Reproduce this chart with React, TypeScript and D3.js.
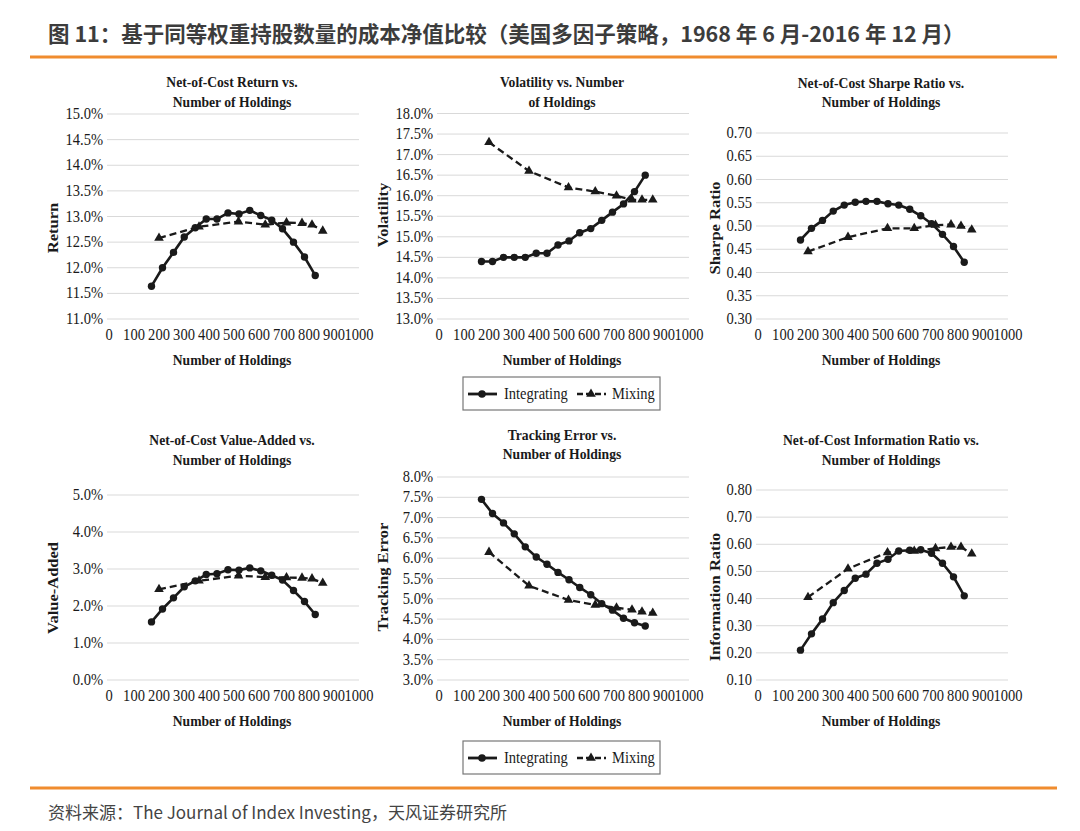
import React from 'react';
import * as d3 from 'd3';

// number of holdings (x) for the two constructions
const holdingsIntegrating = [170, 214, 258, 301, 345, 389, 432, 476, 520, 563, 607, 651, 694, 738, 782, 825];
const holdingsMixing = [200, 360, 518, 625, 710, 772, 812, 855];

// series values
const returnIntegrating = [11.64, 12.0, 12.3, 12.6, 12.78, 12.95, 12.95, 13.07, 13.05, 13.12, 13.02, 12.93, 12.76, 12.5, 12.21, 11.85];
const returnMixing = [12.58, 12.8, 12.9, 12.84, 12.88, 12.87, 12.84, 12.72];
const volIntegrating = [14.4, 14.4, 14.5, 14.5, 14.5, 14.6, 14.6, 14.8, 14.9, 15.1, 15.2, 15.4, 15.6, 15.8, 16.1, 16.5];
const volMixing = [17.3, 16.6, 16.2, 16.1, 16.0, 15.9, 15.9, 15.9];
const sharpeIntegrating = [0.47, 0.495, 0.512, 0.532, 0.545, 0.551, 0.553, 0.553, 0.548, 0.545, 0.536, 0.522, 0.505, 0.482, 0.456, 0.422];
const sharpeMixing = [0.445, 0.476, 0.495, 0.495, 0.502, 0.503, 0.5, 0.492];
const vaIntegrating = [1.57, 1.92, 2.22, 2.52, 2.68, 2.85, 2.87, 2.98, 2.97, 3.03, 2.95, 2.83, 2.7, 2.42, 2.12, 1.77];
const vaMixing = [2.45, 2.68, 2.82, 2.78, 2.77, 2.76, 2.74, 2.62];
const teIntegrating = [7.45, 7.1, 6.87, 6.6, 6.28, 6.03, 5.85, 5.65, 5.47, 5.28, 5.1, 4.88, 4.72, 4.52, 4.41, 4.33];
const teMixing = [6.15, 5.32, 4.97, 4.85, 4.78, 4.73, 4.68, 4.65];
const irIntegrating = [0.21, 0.27, 0.325, 0.385, 0.43, 0.475, 0.49, 0.53, 0.545, 0.575, 0.578, 0.58, 0.567, 0.53, 0.48, 0.41];
const irMixing = [0.405, 0.51, 0.57, 0.575, 0.585, 0.59, 0.59, 0.565];

// tick labels
const xTicks = [0, 100, 200, 300, 400, 500, 600, 700, 800, 900, 1000];
const returnTicks = [11, 11.5, 12, 12.5, 13, 13.5, 14, 14.5, 15];
const volTicks = [13, 13.5, 14, 14.5, 15, 15.5, 16, 16.5, 17, 17.5, 18];
const sharpeTicks = [0.3, 0.35, 0.4, 0.45, 0.5, 0.55, 0.6, 0.65, 0.7];
const vaTicks = [0, 1, 2, 3, 4, 5];
const teTicks = [3, 3.5, 4, 4.5, 5, 5.5, 6, 6.5, 7, 7.5, 8];
const irTicks = [0.1, 0.2, 0.3, 0.4, 0.5, 0.6, 0.7, 0.8];

const SERIF = '"Liberation Serif", "DejaVu Serif", serif';
const CJK = '"Noto Sans CJK SC", "Noto Sans", sans-serif';
const SX = 0.88; // the scanned chart text is narrow
const INK = '#1a1a1a';
const ORANGE = '#F08C2E';

const pct1 = (v: number) => v.toFixed(1) + '%';
const dec2 = (v: number) => v.toFixed(2);

const T = ({ x, y, anchor = 'middle', size = 15, weight = 'normal', rotate = false, children }: any) => (
  <text
    transform={`translate(${x},${y}) scale(${SX},1)${rotate ? ' rotate(-90)' : ''}`}
    textAnchor={anchor}
    fontFamily={SERIF}
    fontSize={size}
    fontWeight={weight}
    fill={INK}
  >
    {children}
  </text>
);

const Panel = ({ box, ticks, fmt, title, yLabel, yLabelPos, titleY, integ, mix }: any) => {
  const x = d3.scaleLinear().domain([0, 1000]).range([box.x0, box.x1]);
  const y = d3.scaleLinear().domain([ticks[0], ticks[ticks.length - 1]]).range([box.y1, box.y0]);
  const line = d3.line<[number, number]>().x(d => x(d[0])).y(d => y(d[1]));
  const integPts: [number, number][] = holdingsIntegrating.map((h, i) => [h, integ[i]]);
  const mixPts: [number, number][] = holdingsMixing.map((h, i) => [h, mix[i]]);
  const tri = d3.symbol(d3.symbolTriangle, 40)() as string;
  const cx = (box.x0 + box.x1) / 2 - 2;
  return (
    <g>
      <T x={cx} y={titleY[0]} size={15.5} weight="bold">{title[0]}</T>
      <T x={cx} y={titleY[1]} size={15.5} weight="bold">{title[1]}</T>
      {ticks.map((t: number) => (
        <g key={t}>
          <line x1={box.x0 - 2} x2={box.x1} y1={y(t)} y2={y(t)} stroke="#d9d9d9" strokeWidth={1} />
          <T x={box.x0 - 6} y={y(t) + 5} anchor="end" size={16.5}>{fmt(t)}</T>
        </g>
      ))}
      {xTicks.map(t => (
        <T key={t} x={x(t)} y={box.y1 + 21} size={16.5}>{t}</T>
      ))}
      <T x={cx} y={box.y1 + 46} size={15.5} weight="bold">Number of Holdings</T>
      <T x={yLabelPos[0] + 5} y={yLabelPos[1]} size={16.5} weight="bold" rotate>{yLabel}</T>
      <path d={line(mixPts) as string} fill="none" stroke={INK} strokeWidth={2.3} strokeDasharray="7,4" />
      {mixPts.map((p, i) => (
        <path key={i} d={tri} transform={`translate(${x(p[0])},${y(p[1])})`} fill={INK} />
      ))}
      <path d={line(integPts) as string} fill="none" stroke={INK} strokeWidth={2.6} />
      {integPts.map((p, i) => (
        <circle key={i} cx={x(p[0])} cy={y(p[1])} r={3.7} fill={INK} />
      ))}
    </g>
  );
};

const Legend = ({ y0 }: { y0: number }) => {
  const cy = y0 + 17;
  const tri = d3.symbol(d3.symbolTriangle, 40)() as string;
  return (
    <g>
      <rect x={463} y={y0} width={197} height={33} fill="#fff" stroke="#777" strokeWidth={1.2} />
      <line x1={468} x2={497} y1={cy} y2={cy} stroke={INK} strokeWidth={2.8} />
      <circle cx={482} cy={cy} r={3.8} fill={INK} />
      <T x={504} y={cy + 5} anchor="start" size={16.5}>Integrating</T>
      <line x1={577} x2={606} y1={cy} y2={cy} stroke={INK} strokeWidth={2.6} strokeDasharray="6,3" />
      <path d={tri} transform={`translate(${591},${cy})`} fill={INK} />
      <T x={612} y={cy + 5} anchor="start" size={16.5}>Mixing</T>
    </g>
  );
};

export default function App() {
  return (
    <svg width={1080} height={831} style={{ position: 'absolute', left: 0, top: 0, background: '#fff' }}>
      <text x={48} y={42} fontFamily={CJK} fontSize={21.5} fontWeight="bold" fill="#3c3c3c">
        图 11：基于同等权重持股数量的成本净值比较（美国多因子策略，1968 年 6 月-2016 年 12 月）
      </text>
      <line x1={30} x2={1057} y1={57} y2={57} stroke={ORANGE} strokeWidth={3} />

      <Panel box={{ x0: 109, x1: 359, y0: 114, y1: 319 }} ticks={returnTicks} fmt={pct1}
        title={['Net-of-Cost Return vs.', 'Number of Holdings']} titleY={[87, 107]}
        yLabel="Return" yLabelPos={[53, 228]} integ={returnIntegrating} mix={returnMixing} />
      <Panel box={{ x0: 439, x1: 689, y0: 113.5, y1: 319 }} ticks={volTicks} fmt={pct1}
        title={['Volatility vs. Number', 'of Holdings']} titleY={[87, 107]}
        yLabel="Volatility" yLabelPos={[383, 215]} integ={volIntegrating} mix={volMixing} />
      <Panel box={{ x0: 758, x1: 1008, y0: 133, y1: 319 }} ticks={sharpeTicks} fmt={dec2}
        title={['Net-of-Cost Sharpe Ratio vs.', 'Number of Holdings']} titleY={[88, 107]}
        yLabel="Sharpe Ratio" yLabelPos={[715, 228]} integ={sharpeIntegrating} mix={sharpeMixing} />

      <Legend y0={377} />

      <Panel box={{ x0: 109, x1: 359, y0: 495, y1: 680 }} ticks={vaTicks} fmt={pct1}
        title={['Net-of-Cost Value-Added vs.', 'Number of Holdings']} titleY={[445, 465]}
        yLabel="Value-Added" yLabelPos={[53, 588]} integ={vaIntegrating} mix={vaMixing} />
      <Panel box={{ x0: 439, x1: 689, y0: 477, y1: 680 }} ticks={teTicks} fmt={pct1}
        title={['Tracking Error vs.', 'Number of Holdings']} titleY={[440, 459]}
        yLabel="Tracking Error" yLabelPos={[383, 577]} integ={teIntegrating} mix={teMixing} />
      <Panel box={{ x0: 758, x1: 1008, y0: 490, y1: 680 }} ticks={irTicks} fmt={dec2}
        title={['Net-of-Cost Information Ratio vs.', 'Number of Holdings']} titleY={[445, 465]}
        yLabel="Information Ratio" yLabelPos={[715, 597]} integ={irIntegrating} mix={irMixing} />

      <Legend y0={741} />

      <line x1={30} x2={1057} y1={788} y2={788} stroke={ORANGE} strokeWidth={3} />
      <text x={48} y={819} fontFamily={CJK} fontSize={17} fill="#444">
        资料来源：The Journal of Index Investing，天风证券研究所
      </text>
    </svg>
  );
}
